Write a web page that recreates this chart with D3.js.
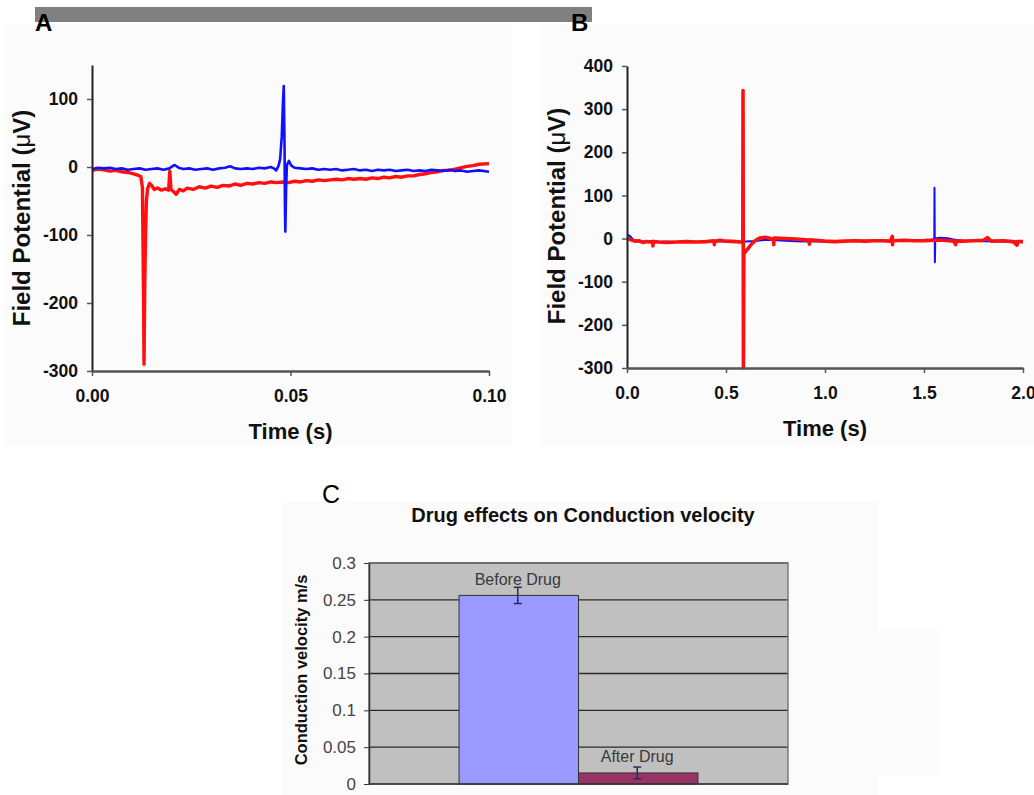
<!DOCTYPE html>
<html>
<head>
<meta charset="utf-8">
<script src="https://cdn.jsdelivr.net/npm/d3@7"></script>
<style>
  body { margin: 0; background: #fff; }
  svg { display: block; font-family: "Liberation Sans", Arial, sans-serif; }
</style>
</head>
<body>
<svg id="fig" width="1034" height="795"></svg>
<script>
// Panel A traces: [time (s), field potential (uV)]
const blueA = [
  [0.0000,-3],[0.0015,-1],[0.003,-2],[0.0045,-1],[0.006,-3],[0.0075,-2],[0.009,-4],[0.0105,-3],
  [0.012,-2],[0.0135,-4],[0.015,-3],[0.0165,-2],[0.018,-4],[0.0195,-2],[0.0208,3],[0.0218,-1],
  [0.023,-3],[0.0245,-2],[0.026,-4],[0.0275,-3],[0.029,-2],[0.0305,-4],[0.032,-2],[0.0335,-1],
  [0.0348,1],[0.036,-2],[0.0375,-3],[0.039,-2],[0.0405,-3],[0.042,-1],[0.0435,-2],[0.045,0],
  [0.0458,-2],[0.0464,-5],[0.0470,2],[0.0474,12],[0.0478,45],[0.0481,95],[0.0483,119],[0.0485,30],
  [0.0486,-60],[0.0487,-95],[0.0489,-30],[0.0491,3],[0.0496,9],[0.0502,2],[0.051,-1],[0.0525,-2],
  [0.054,-3],[0.0555,-2],[0.057,-4],[0.0585,-3],[0.060,-4],[0.0615,-3],[0.063,-5],[0.0645,-4],
  [0.066,-3],[0.0675,-5],[0.069,-4],[0.0705,-6],[0.072,-4],[0.0735,-5],[0.075,-4],[0.0765,-6],
  [0.078,-5],[0.0795,-4],[0.081,-6],[0.0825,-5],[0.084,-6],[0.0855,-4],[0.087,-5],[0.0885,-6],
  [0.090,-4],[0.0915,-6],[0.093,-5],[0.0945,-7],[0.096,-6],[0.0975,-5],[0.100,-7]
];
const redA = [
  [0.0000,-5],[0.0015,-3],[0.003,-4],[0.0045,-6],[0.006,-5],[0.0075,-7],[0.009,-8],[0.0105,-10],
  [0.0115,-12],[0.0123,-14],[0.0127,-30],[0.0130,-200],[0.0131,-290],[0.0133,-170],[0.0135,-100],
  [0.0137,-50],[0.0140,-32],[0.0145,-24],[0.0150,-27],[0.0157,-33],[0.0165,-31],[0.0175,-34],
  [0.0185,-32],[0.0193,-34],[0.0196,-6],[0.0199,-33],[0.0205,-36],[0.0212,-40],[0.022,-33],
  [0.023,-35],[0.024,-31],[0.0255,-33],[0.027,-29],[0.0285,-31],[0.030,-28],[0.0315,-30],
  [0.033,-27],[0.0345,-28],[0.036,-25],[0.0375,-27],[0.039,-24],[0.0405,-25],[0.042,-23],
  [0.0435,-24],[0.045,-22],[0.0465,-23],[0.048,-22],[0.0495,-23],[0.051,-21],[0.0525,-22],
  [0.054,-20],[0.0555,-21],[0.057,-19],[0.0585,-20],[0.060,-19],[0.0615,-18],[0.063,-19],
  [0.0645,-17],[0.066,-18],[0.0675,-17],[0.069,-18],[0.0705,-16],[0.072,-17],[0.0735,-15],
  [0.075,-16],[0.0765,-14],[0.078,-15],[0.0795,-13],[0.081,-13],[0.0825,-11],[0.084,-10],
  [0.0855,-8],[0.087,-7],[0.0885,-5],[0.090,-5],[0.0915,-3],[0.093,-1],[0.0945,1],[0.096,2],
  [0.0975,4],[0.100,5]
];

// Panel B traces: [time (s), field potential (uV)]
const blueB = [
  [0.00,9],[0.015,6],[0.03,-2],[0.05,-6],[0.08,-7],[0.11,-6],[0.15,-8],[0.20,-7],[0.25,-8],
  [0.30,-7],[0.35,-8],[0.40,-7],[0.45,-6],[0.50,-7],[0.55,-8],[0.585,-8],[0.60,-7],[0.62,-6],
  [0.64,-6],[0.66,-5],[0.70,-3],[0.75,-4],[0.80,-5],[0.85,-6],[0.90,-7],[0.95,-6],[1.00,-7],
  [1.10,-6],[1.20,-5],[1.30,-6],[1.40,-4],[1.50,-3],[1.54,-2],[1.552,-1],[1.553,118],
  [1.555,-55],[1.557,0],[1.58,2],[1.62,1],[1.66,-3],[1.70,-5],[1.80,-6],[1.90,-7],[2.00,-6]
];
const redB = [
  [0.00,1],[0.02,-3],[0.04,-6],[0.06,-5],[0.08,-9],[0.10,-7],[0.12,-8],[0.13,-7],[0.131,-17],
  [0.133,-7],[0.16,-8],[0.20,-9],[0.25,-8],[0.30,-7],[0.35,-8],[0.40,-7],[0.44,-5],[0.441,-14],
  [0.443,-6],[0.47,-4],[0.50,-6],[0.55,-7],[0.575,-8],[0.585,-9],[0.586,343],[0.588,-300],
  [0.590,-35],[0.61,-24],[0.63,-12],[0.65,-4],[0.67,1],[0.70,3],[0.72,1],[0.74,-3],[0.741,-14],
  [0.743,1],[0.80,0],[0.85,-1],[0.90,-3],[0.92,-4],[0.921,-13],[0.923,-3],[0.95,-4],[1.00,-6],
  [1.05,-7],[1.10,-6],[1.15,-5],[1.20,-6],[1.25,-5],[1.30,-5],[1.33,-6],[1.34,5],[1.341,-14],
  [1.343,-5],[1.40,-4],[1.45,-5],[1.50,-5],[1.55,-4],[1.60,-4],[1.65,-6],[1.66,-14],[1.662,-6],
  [1.70,-6],[1.75,-5],[1.80,-4],[1.82,2],[1.84,-6],[1.90,-5],[1.95,-7],[1.97,-15],[1.972,-7],
  [2.00,-7]
];

const yTicksA = [-300, -200, -100, 0, 100];
const xTicksA = [0, 0.05, 0.1];
const yTicksB = [-300, -200, -100, 0, 100, 200, 300, 400];
const xTicksB = [0, 0.5, 1, 1.5, 2];

// Panel C: conduction velocity
const groups = ['Before Drug', 'After Drug'];
const velocity = [0.256, 0.015];
const velocityErr = [0.011, 0.008];
const yTicksC = [0, 0.05, 0.1, 0.15, 0.2, 0.25, 0.3];
const barColors = ['#9999ff', '#993366'];

const svg = d3.select('#fig');

// light panel backgrounds and the grey strip on top
svg.append('rect').attr('x', 5).attr('y', 24).attr('width', 507).attr('height', 422).attr('fill', '#fbfbfb');
svg.append('rect').attr('x', 541).attr('y', 24).attr('width', 493).attr('height', 421).attr('fill', '#fbfbfb');
svg.append('rect').attr('x', 283).attr('y', 502).attr('width', 595).attr('height', 293).attr('fill', '#fbfbfb');
svg.append('rect').attr('x', 878).attr('y', 630).attr('width', 62).attr('height', 145).attr('fill', '#fcfcfc');
svg.append('rect').attr('x', 35).attr('y', 7).attr('width', 557).attr('height', 15).attr('fill', '#808080');

function tracePanel(opts) {
  const x = d3.scaleLinear().domain(opts.xDomain).range(opts.xRange);
  const y = d3.scaleLinear().domain(opts.yDomain).range(opts.yRange);
  const g = svg.append('g');

  const line = d3.line().x(d => x(d[0])).y(d => y(d[1]));
  opts.traces.forEach(t => {
    g.append('path').datum(t.data)
      .attr('d', line)
      .attr('fill', 'none')
      .attr('stroke', t.color)
      .attr('stroke-width', t.width)
      .attr('stroke-linejoin', 'round');
  });

  const yAxis = g.append('g')
    .attr('transform', `translate(${opts.xRange[0]},0)`)
    .call(d3.axisLeft(y).tickValues(opts.yTicks).tickSize(5).tickSizeOuter(0).tickPadding(9)
      .tickFormat(d => String(d)));
  const fx = d3.format(opts.xFormat);
  const xAxis = g.append('g')
    .attr('transform', `translate(0,${opts.yRange[0]})`)
    .call(d3.axisBottom(x).tickValues(opts.xTicks).tickSize(5).tickSizeOuter(0).tickPadding(14)
      .tickFormat(d => fx(d)));

  [yAxis, xAxis].forEach(a => {
    a.selectAll('text').attr('font-size', 17.5).attr('font-weight', 'bold')
      .attr('fill', '#111').attr('font-family', '"Liberation Sans", Arial, sans-serif');
    a.selectAll('line').attr('stroke', '#555').attr('stroke-width', 1.5);
  });
  yAxis.select('.domain').attr('stroke', '#222').attr('stroke-width', 2);
  xAxis.select('.domain').attr('stroke', '#555').attr('stroke-width', 2.5);

  const xMid = (opts.xRange[0] + opts.xRange[1]) / 2;
  g.append('text')
    .attr('x', xMid).attr('y', opts.yRange[0] + 68)
    .attr('text-anchor', 'middle')
    .attr('font-size', 22).attr('font-weight', 'bold').attr('fill', '#111')
    .text('Time (s)');

  const yl = g.append('text')
    .attr('transform', `translate(${opts.yLabelX},${opts.yLabelY}) rotate(-90)`)
    .attr('text-anchor', 'middle')
    .attr('font-size', 24).attr('font-weight', 'bold').attr('fill', '#111');
  yl.append('tspan').text('Field Potential (');
  yl.append('tspan').attr('font-weight', 'normal').text('\u03bc');
  yl.append('tspan').text('V)');
}

tracePanel({
  xDomain: [0, 0.1], xRange: [92, 489],
  yDomain: [-300, 150], yRange: [371, 65],
  yTicks: yTicksA, xTicks: xTicksA, xFormat: '.2f',
  yLabelX: 30, yLabelY: 218,
  traces: [
    { data: redA, color: '#ff1010', width: 3.4 },
    { data: blueA, color: '#1010ff', width: 2.6 }
  ]
});

tracePanel({
  xDomain: [0, 2], xRange: [627, 1023],
  yDomain: [-300, 400], yRange: [368, 66],
  yTicks: yTicksB, xTicks: xTicksB, xFormat: '.1f',
  yLabelX: 565, yLabelY: 216,
  traces: [
    { data: blueB, color: '#1010ff', width: 2 },
    { data: redB, color: '#ff1010', width: 3.6 }
  ]
});

// panel letters
svg.append('text').attr('x', 35).attr('y', 31).attr('font-size', 24).attr('font-weight', 'bold').attr('fill', '#000').text('A');
svg.append('text').attr('x', 571).attr('y', 31).attr('font-size', 24).attr('font-weight', 'bold').attr('fill', '#000').text('B');
svg.append('text').attr('x', 322).attr('y', 503).attr('font-size', 25).attr('fill', '#000').text('C');

// Panel C bar chart
const plotL = 369, plotR = 788, plotT = 563, plotB = 784;
const yC = d3.scaleLinear().domain([0, 0.3]).range([plotB, plotT]);
const catBand = d3.scaleBand().domain(['cv']).range([plotL, plotR]).paddingOuter(0.377);
const serBand = d3.scaleBand().domain(groups).range([0, catBand.bandwidth()]);
const gC = svg.append('g');

gC.append('rect').attr('x', plotL).attr('y', plotT).attr('width', plotR - plotL).attr('height', plotB - plotT)
  .attr('fill', '#c0c0c0');
gC.selectAll('.grid').data(yTicksC.filter(d => d > 0)).enter().append('line')
  .attr('x1', plotL).attr('x2', plotR)
  .attr('y1', d => yC(d)).attr('y2', d => yC(d))
  .attr('stroke', '#2a2a2a').attr('stroke-width', 1.4);
gC.append('rect').attr('x', plotL).attr('y', plotT).attr('width', plotR - plotL).attr('height', plotB - plotT)
  .attr('fill', 'none').attr('stroke', '#7a7a7a').attr('stroke-width', 1.5);

const x0 = catBand('cv');
gC.selectAll('.bar').data(groups).enter().append('rect')
  .attr('x', d => x0 + serBand(d))
  .attr('y', (d, i) => yC(velocity[i]))
  .attr('width', serBand.bandwidth())
  .attr('height', (d, i) => plotB - yC(velocity[i]))
  .attr('fill', (d, i) => barColors[i])
  .attr('stroke', '#333').attr('stroke-width', 1);

groups.forEach((d, i) => {
  const cx = x0 + serBand(d) + serBand.bandwidth() / 2 - 1;
  const hi = yC(velocity[i] + velocityErr[i]);
  const lo = yC(velocity[i] - velocityErr[i]);
  gC.append('line').attr('x1', cx).attr('x2', cx).attr('y1', hi).attr('y2', lo)
    .attr('stroke', '#2b2b55').attr('stroke-width', 1.5);
  [hi, lo].forEach(yy => gC.append('line').attr('x1', cx - 4).attr('x2', cx + 4).attr('y1', yy).attr('y2', yy)
    .attr('stroke', '#2b2b55').attr('stroke-width', 1.5));
  gC.append('text')
    .attr('x', cx).attr('y', yC(velocity[i]) - (i === 0 ? 10 : 11))
    .attr('text-anchor', 'middle')
    .attr('font-size', 16).attr('fill', '#3a3a3a')
    .text(d);
});

const yAxisC = gC.append('g')
  .attr('transform', `translate(${plotL},0)`)
  .call(d3.axisLeft(yC).tickValues(yTicksC).tickSize(5).tickSizeOuter(0).tickPadding(8)
    .tickFormat(d => d === 0 ? '0' : String(d)));
yAxisC.selectAll('text').attr('font-size', 17).attr('fill', '#444')
  .attr('font-family', '"Liberation Sans", Arial, sans-serif');
yAxisC.selectAll('line').attr('stroke', '#333');
yAxisC.select('.domain').attr('stroke', '#333').attr('stroke-width', 1.5);
gC.append('line').attr('x1', plotL).attr('x2', plotR).attr('y1', plotB).attr('y2', plotB)
  .attr('stroke', '#333').attr('stroke-width', 1.5);

gC.append('text').attr('x', 583).attr('y', 522).attr('text-anchor', 'middle')
  .attr('font-size', 20).attr('font-weight', 'bold').attr('fill', '#111')
  .text('Drug effects on Conduction velocity');
gC.append('text').attr('transform', 'translate(307,670) rotate(-90)').attr('text-anchor', 'middle')
  .attr('font-size', 16.5).attr('font-weight', 'bold').attr('fill', '#111')
  .text('Conduction velocity m/s');
</script>
</body>
</html>
